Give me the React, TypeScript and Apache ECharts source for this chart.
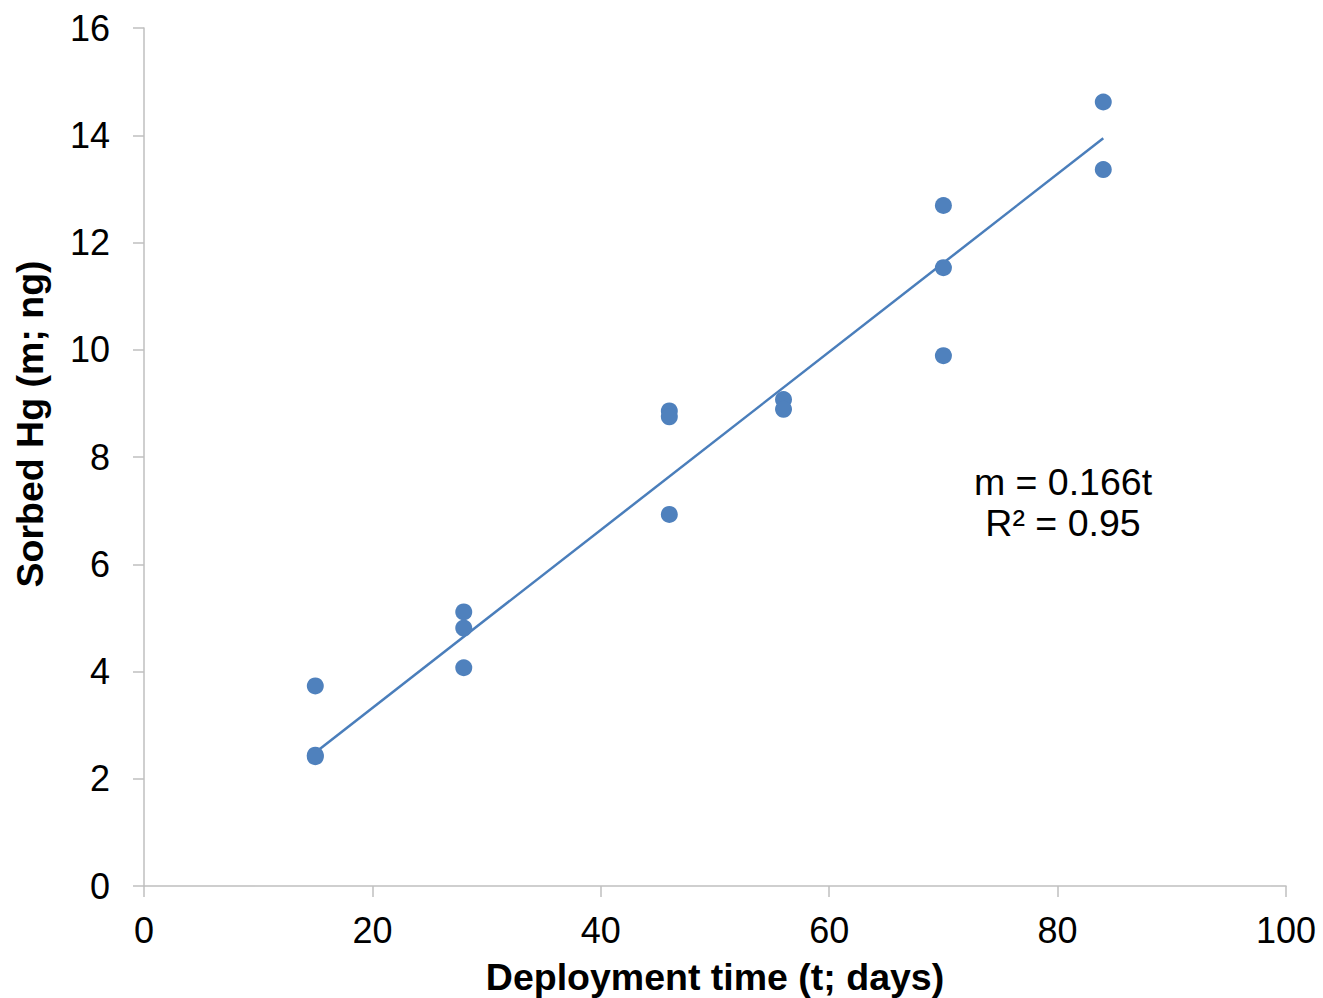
import React, { useEffect, useRef } from "react";
import * as echarts from "echarts";

const days: number[] = [15, 15, 15, 28, 28, 28, 46, 46, 46, 56, 56, 70, 70, 70, 84, 84];
const sorbedHg: number[] = [3.73, 2.41, 2.44, 5.11, 4.81, 4.07, 8.86, 8.75, 6.93, 9.07, 8.89, 12.69, 11.53, 9.89, 14.62, 13.36];
const slope = 0.166;
const trendRange: number[] = [15, 84];
const xTicks = { min: 0, max: 100, interval: 20 };
const yTicks = { min: 0, max: 16, interval: 2 };
const xTitle = "Deployment time (t; days)";
const yTitle = "Sorbed Hg (m; ng)";
const eqLabel = "m = 0.166t";
const r2Label = "R² = 0.95";

const FONT = "Liberation Sans, Arial, Helvetica, sans-serif";
const AXIS_COLOR = "#BFBFBF";
const BLUE = "#4F81BD";

export default function App() {
  const ref = useRef<HTMLDivElement>(null);
  useEffect(() => {
    document.body.style.margin = "0";
    if (!ref.current) return;
    const chart = echarts.init(ref.current, undefined, { renderer: "svg" });
    const points = days.map((d, i) => [d, sorbedHg[i]]);
    const trend = trendRange.map((t) => [t, slope * t]);
    const axisCommon = {
      type: "value" as const,
      splitLine: { show: false },
      axisLine: { show: true, lineStyle: { color: AXIS_COLOR, width: 1.5 } },
      axisTick: { show: true, length: 11, inside: false, lineStyle: { color: AXIS_COLOR, width: 1.5 } },
    };
    chart.setOption({
      animation: false,
      backgroundColor: "#ffffff",
      grid: { left: 144, top: 28, right: 37, bottom: 112, containLabel: false, outerBoundsMode: "none" },
      xAxis: {
        ...axisCommon,
        min: xTicks.min,
        max: xTicks.max,
        interval: xTicks.interval,
        axisLabel: { color: "#000", fontSize: 36, fontFamily: FONT, margin: 26 },
        name: xTitle,
        nameLocation: "middle",
        nameGap: 72,
        nameTextStyle: { color: "#000", fontSize: 37.5, fontWeight: "bold", fontFamily: FONT },
      },
      yAxis: {
        ...axisCommon,
        min: yTicks.min,
        max: yTicks.max,
        interval: yTicks.interval,
        axisLabel: { color: "#000", fontSize: 36, fontFamily: FONT, margin: 34 },
      },
      graphic: [
        {
          type: "text",
          x: 30,
          y: 424,
          rotation: Math.PI / 2,
          style: {
            text: yTitle,
            fill: "#000",
            font: `bold 37.5px ${FONT}`,
            align: "center",
            verticalAlign: "middle",
          },
        },
        {
          type: "text",
          x: 1063,
          y: 482,
          style: { text: eqLabel, fill: "#000", font: `37.5px ${FONT}`, align: "center", verticalAlign: "middle" },
        },
        {
          type: "text",
          x: 1063,
          y: 523,
          style: { text: r2Label, fill: "#000", font: `37.5px ${FONT}`, align: "center", verticalAlign: "middle" },
        },
      ],
      series: [
        {
          type: "line",
          data: trend,
          symbol: "none",
          lineStyle: { color: "#4A7EBB", width: 2.5 },
          z: 2,
        },
        {
          type: "scatter",
          data: points,
          symbol: "circle",
          symbolSize: 17,
          itemStyle: { color: BLUE, opacity: 1 },
          z: 3,
        },
      ],
    });
    return () => chart.dispose();
  }, []);
  return <div ref={ref} style={{ width: 1323, height: 998 }} />;
}
